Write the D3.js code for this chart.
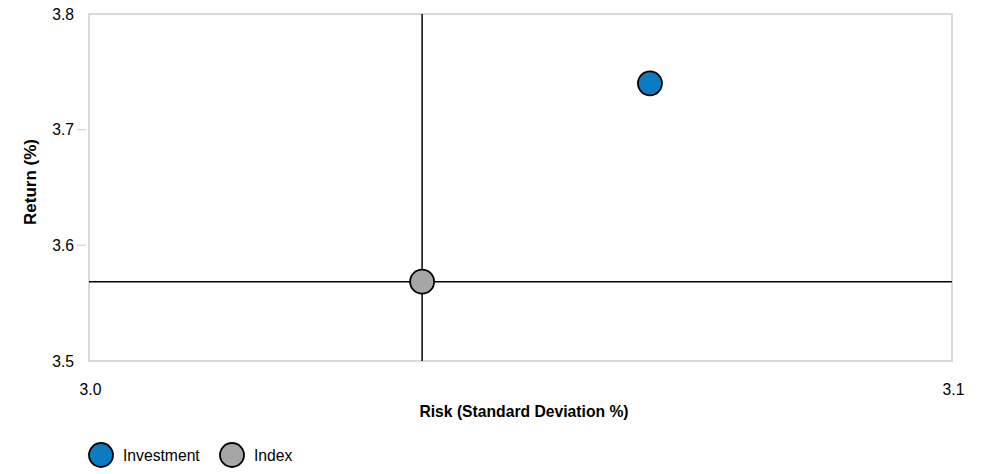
<!DOCTYPE html>
<html><head><meta charset="utf-8">
<script src="https://cdn.jsdelivr.net/npm/d3@7"></script>
<style>body{margin:0;background:#fff;} text{font-family:"Liberation Sans",Arial,sans-serif;}</style>
</head><body>
<svg id="chart" width="993" height="474"></svg>
<script>
const categories = ["Investment", "Index"];
const riskValues = [3.065, 3.0386];
const returnValues = [3.7401, 3.5686];
const colors = ["#0a7cc1", "#a6a6a6"];
const xTicks = [3.0, 3.1];
const yTicks = [3.5, 3.6, 3.7, 3.8];
const xTitle = "Risk (Standard Deviation %)";
const yTitle = "Return (%)";

const svg = d3.select("#chart");
const m = {left: 89, right: 952, top: 14, bottom: 361};
const x = d3.scaleLinear().domain([3.0, 3.1]).range([m.left, m.right]);
const y = d3.scaleLinear().domain([3.5, 3.8]).range([m.bottom, m.top]);
const fs = 15.7;

// frame
svg.append("rect").attr("x", m.left).attr("y", m.top)
  .attr("width", m.right - m.left).attr("height", m.bottom - m.top)
  .attr("fill", "none").attr("stroke", "#d9d9d9").attr("stroke-width", 2);

// y axis
const yAxis = svg.append("g").attr("transform", `translate(${m.left - 2},0)`)
  .call(d3.axisLeft(y).tickValues(yTicks).tickFormat(d3.format(".1f")).tickSize(0).tickPadding(13));
yAxis.select(".domain").remove();
yAxis.selectAll("text").attr("font-size", fs).attr("fill", "#000").attr("font-family", "Liberation Sans, Arial");
svg.selectAll(".ytick").data(yTicks.filter(d => d > 3.5 && d < 3.8)).enter().append("line")
  .attr("x1", m.left - 12).attr("x2", m.left - 3)
  .attr("y1", d => y(d)).attr("y2", d => y(d))
  .attr("stroke", "#d9d9d9").attr("stroke-width", 1.5);

// x axis
const xAxis = svg.append("g").attr("transform", `translate(1,${m.bottom})`)
  .call(d3.axisBottom(x).tickValues(xTicks).tickFormat(d3.format(".1f")).tickSize(0).tickPadding(23));
xAxis.select(".domain").remove();
xAxis.selectAll("text").attr("font-size", fs).attr("fill", "#000").attr("font-family", "Liberation Sans, Arial");

// titles
svg.append("text").attr("x", 524).attr("y", 417)
  .attr("text-anchor", "middle").attr("font-size", fs).attr("font-weight", "bold").text(xTitle);
svg.append("text").attr("transform", `translate(36,182) rotate(-90)`)
  .attr("text-anchor", "middle").attr("font-size", 17).attr("font-weight", "bold").text(yTitle);

// crosshair at index
const idx = 1;
svg.append("line").attr("x1", x(riskValues[idx])).attr("x2", x(riskValues[idx]))
  .attr("y1", m.top).attr("y2", m.bottom).attr("stroke", "#000").attr("stroke-width", 1.5);
svg.append("line").attr("x1", m.left).attr("x2", m.right)
  .attr("y1", y(returnValues[idx])).attr("y2", y(returnValues[idx])).attr("stroke", "#000").attr("stroke-width", 1.5);

// points
svg.selectAll(".pt").data(categories).enter().append("circle")
  .attr("cx", (d, i) => x(riskValues[i])).attr("cy", (d, i) => y(returnValues[i]))
  .attr("r", 12).attr("fill", (d, i) => colors[i]).attr("stroke", "#000").attr("stroke-width", 1.8);

// legend
const legendX = [101, 232];
const lg = svg.selectAll(".lg").data(categories).enter().append("g")
  .attr("transform", (d, i) => `translate(${legendX[i]},455)`);
lg.append("circle").attr("r", 12).attr("fill", (d, i) => colors[i]).attr("stroke", "#000").attr("stroke-width", 1.8);
lg.append("text").attr("x", 22).attr("y", 5.5).attr("font-size", fs).text(d => d);
</script>
</body></html>
